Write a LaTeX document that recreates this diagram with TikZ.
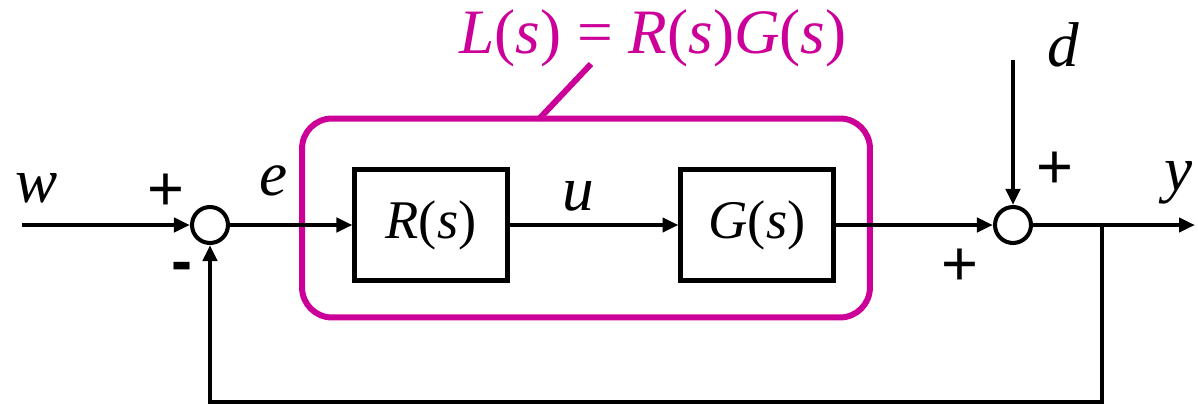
\documentclass[tikz,border=0pt]{standalone}
\usepackage{fontspec}
\setmainfont{Liberation Serif}
\newfontfamily\signfont{Liberation Sans}
\usetikzlibrary{arrows.meta}
\definecolor{loopmag}{RGB}{204,0,153}

\newcommand*{\mainy}{225}
\newcommand*{\feedy}{402}
\newcommand*{\branchx}{1102}

\begin{document}
\begin{tikzpicture}
[
	x=0.02cm, y=-0.02cm,
	line width=2.3pt,
	block/.style={draw,rectangle,inner sep=0pt,minimum width=3.06cm,minimum height=2.22cm,font=\fontsize{31}{36}\selectfont},
	sumpt/.style={circle,draw,fill=white,inner sep=0pt,minimum size=0.72cm},
	sig/.style={inner sep=0pt,font=\fontsize{36}{40}\selectfont},
	sign/.style={inner sep=0pt,font=\fontsize{36}{40}\signfont},
	loopbox/.style={draw=loopmag,line width=3.4pt,rounded corners=0.6cm,minimum width=11.36cm,minimum height=3.98cm},
	arr/.style={-{Triangle[length=0.32cm,width=0.28cm]}}
]
	\useasboundingbox (0,0) rectangle (1198,406);

	% loop box
	\node[loopbox] (loop) at (586,218) {};
	\node[sig,text=loopmag] (loopeq) at (653,38) {\textit{L}(\textit{s}) = \textit{R}(\textit{s})\textit{G}(\textit{s})};
	\coordinate (leadtop) at (591,64);
	\coordinate (leadbot) at (539,119);
	\draw[loopmag,line width=3.4pt] (leadtop) -- (leadbot);

	% blocks
	\node[sumpt] (sumin) at (210,\mainy) {};
	\node[block] (ctrl) at (431,\mainy) {\textit{R}(\textit{s})};
	\node[block] (plant) at (757,\mainy) {\textit{G}(\textit{s})};
	\node[sumpt] (sumout) at (1013,\mainy) {};

	% signals
	\coordinate (win) at (22,\mainy);
	\coordinate (dtop) at (1013,60);
	\coordinate (yout) at (1195,\mainy);
	\coordinate (branch) at (\branchx,\mainy);
	\coordinate (fbl) at (210,\feedy);
	\draw[arr] (win) -- (sumin);
	\draw[arr] (sumin) -- (ctrl);
	\draw[arr] (ctrl) -- (plant);
	\draw[arr] (plant) -- (sumout);
	\draw[arr] (dtop) -- (sumout);
	\draw[arr] (sumout) -- (yout);
	\draw[arr] (branch) |- (fbl) -- (sumin);

	% labels
	\node[sig] (wlab) at (37,188) {\textit{w}};
	\node[sig] (elab) at (274,181) {\textit{e}};
	\node[sig] (ulab) at (578,196) {\textit{u}};
	\node[sig] (dlab) at (1063,45) {\textit{d}};
	\node[sig] (ylab) at (1179,183) {\textit{y}};
	\node[sign] (pin) at (166,192) {+};
	\node[sign,font=\fontsize{36}{40}\signfont\bfseries] (mfb) at (182,272) {-};
	\node[sign] (pd) at (1055,170) {+};
	\node[sign] (pg) at (960,267) {+};

\end{tikzpicture}
\end{document}
